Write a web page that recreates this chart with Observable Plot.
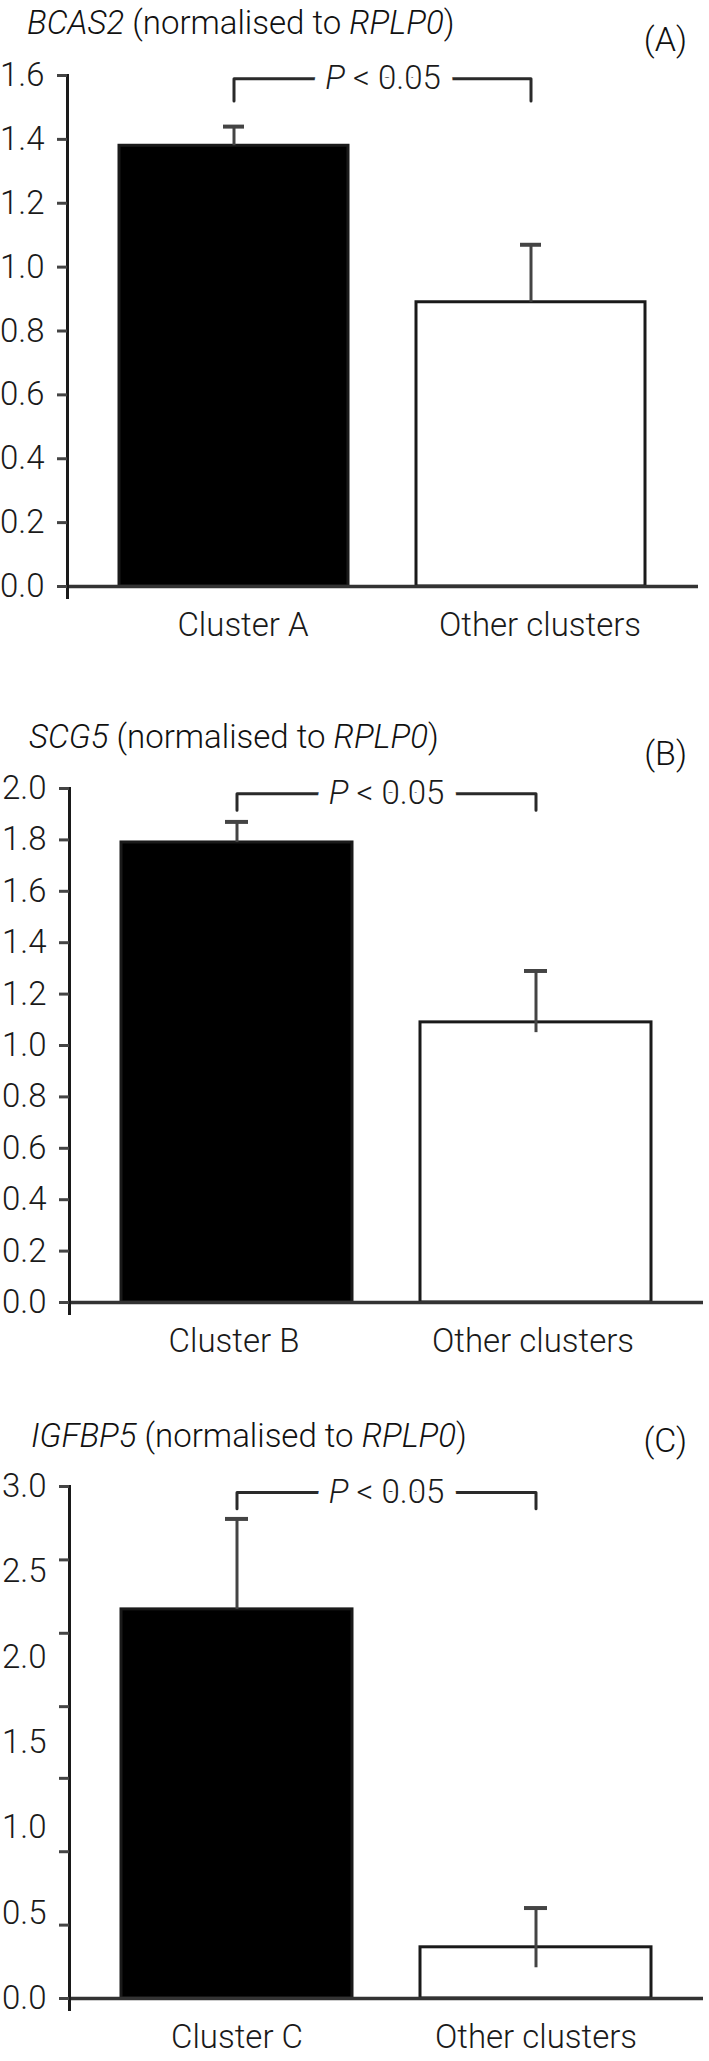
<!DOCTYPE html>
<html>
<head>
<meta charset="utf-8">
<script src="https://cdn.jsdelivr.net/npm/d3@7"></script>
<script src="https://cdn.jsdelivr.net/npm/@observablehq/plot@0.6"></script>
<style>
  html, body { margin: 0; padding: 0; background: #fff; }
  #root { position: relative; width: 709px; height: 2061px; font-family: Roboto, "Open Sans", sans-serif; color: #111; }
  .panel { position: absolute; left: 0; width: 709px; }
  .title { position: absolute; font-size: 33px; line-height: 33px; font-weight: 300; white-space: nowrap; }
  .tag { position: absolute; font-size: 34px; line-height: 34px; font-weight: 300; }
  .chart { position: absolute; left: 0; }
</style>
</head>
<body>
<div id="root"></div>
<script>
// ---- Data ----
const catsA = ["Cluster A", "Other clusters"];
const valuesA = [1.38, 0.89];
const errHiA = [1.44, 1.07];
const errLoA = [1.38, 0.89];
const ticksA = [0, 0.2, 0.4, 0.6, 0.8, 1.0, 1.2, 1.4, 1.6];

const catsB = ["Cluster B", "Other clusters"];
const valuesB = [1.79, 1.09];
const errHiB = [1.87, 1.29];
const errLoB = [1.79, 1.05];
const ticksB = [0, 0.2, 0.4, 0.6, 0.8, 1.0, 1.2, 1.4, 1.6, 1.8, 2.0];

const catsC = ["Cluster C", "Other clusters"];
const valuesC = [2.28, 0.30];
const errHiC = [2.81, 0.53];
const errLoC = [2.28, 0.18];
const labelTicksC = [0, 0.5, 1.0, 1.5, 2.0, 2.5, 3.0];
const markTicksC = [0, 0.43, 0.86, 1.29, 1.71, 2.14, 2.57, 3.0];

const pLabel = "P < 0.05";

// ---- Panels ----
const panels = [
  {gene: "BCAS2", tag: "(A)", cats: catsA, values: valuesA, hi: errHiA, lo: errLoA,
   domain: [0, 1.6], labelTicks: ticksA, markTicks: ticksA, bracketTop: 1.59, bracketLow: 1.52,
   top: 0, titleLeft: 27, titleTop: 6, tagTop: 22, plotH: 511, ml: 67, mr: 11, xdx: 9},
  {gene: "SCG5", tag: "(B)", cats: catsB, values: valuesB, hi: errHiB, lo: errLoB,
   domain: [0, 2.0], labelTicks: ticksB, markTicks: ticksB, bracketTop: 1.98, bracketLow: 1.915,
   top: 713, titleLeft: 29, titleTop: 7, tagTop: 23, plotH: 514, ml: 69, mr: 6, xdx: -3},
  {gene: "IGFBP5", tag: "(C)", cats: catsC, values: valuesC, hi: errHiC, lo: errLoC,
   domain: [0, 3.0], labelTicks: labelTicksC, markTicks: markTicksC, bracketTop: 2.965, bracketLow: 2.87,
   top: 1411, titleLeft: 31, titleTop: 8, tagTop: 12, plotH: 512, ml: 69, mr: 6, xdx: 0}
];

const root = document.getElementById("root");
const ink = "#1a1a1a";
const font = "Roboto, 'Open Sans', sans-serif";
const FS = 33;

panels.forEach(p => {
  const div = document.createElement("div");
  div.className = "panel";
  div.style.top = p.top + "px";
  div.style.height = "690px";
  root.appendChild(div);

  const title = document.createElement("div");
  title.className = "title";
  title.style.left = p.titleLeft + "px";
  title.style.top = p.titleTop + "px";
  title.innerHTML = `<i>${p.gene}</i> (normalised to <i>RPLP0</i>)`;
  div.appendChild(title);

  const tag = document.createElement("div");
  tag.className = "tag";
  tag.style.right = "22px";
  tag.style.top = p.tagTop + "px";
  tag.textContent = p.tag;
  div.appendChild(tag);

  const data = p.cats.map((c, i) => ({cat: c, value: p.values[i], hi: p.hi[i], lo: p.lo[i], idx: i}));
  const bracket = [
    {x: p.cats[0], y: p.bracketLow},
    {x: p.cats[0], y: p.bracketTop},
    {x: p.cats[1], y: p.bracketTop},
    {x: p.cats[1], y: p.bracketLow}
  ];

  const marginTop = 30, marginBottom = 60;
  const chart = Plot.plot({
    width: 709,
    height: marginTop + p.plotH + marginBottom,
    marginTop, marginBottom,
    marginLeft: p.ml, marginRight: p.mr,
    style: {fontFamily: font, fontSize: FS + "px", fontWeight: 300, color: ink, background: "transparent", overflow: "visible"},
    x: {domain: p.cats, paddingInner: 0.228, paddingOuter: 0.173, align: 0.5},
    y: {domain: p.domain},
    marks: [
      Plot.barY(data, {x: "cat", y: "value", fill: d => d.idx === 0 ? "#000" : "#fff", stroke: ink, strokeWidth: 3}),
      Plot.ruleX(data, {x: "cat", y1: "lo", y2: "hi", stroke: "#444", strokeWidth: 3}),
      Plot.tickY(data, {x: "cat", y: "hi", stroke: "#444", strokeWidth: 4, insetLeft: 104, insetRight: 104}),
      Plot.ruleY([0], {stroke: "#333", strokeWidth: 3.5}),
      Plot.frame({anchor: "left", stroke: ink, strokeWidth: 3, insetBottom: -11}),
      Plot.axisY({ticks: p.markTicks, tickSize: 10, tickFormat: () => "", stroke: "#444", strokeWidth: 3}),
      Plot.axisY({ticks: p.labelTicks, tickSize: 0, tickPadding: 23, tickFormat: d => d.toFixed(1), fontSize: FS, fill: ink}),
      Plot.axisX({tickSize: 0, tickPadding: 26, fontSize: FS, fill: ink, label: null, dx: p.xdx}),
      Plot.line(bracket, {x: "x", y: "y", stroke: "#2a2a2a", strokeWidth: 3}),
      // white halo that opens a gap in the bracket line around the label
      Plot.text([pLabel], {frameAnchor: "middle", y: () => p.bracketTop, text: d => d, fontSize: FS, fill: "white", stroke: "white", strokeWidth: 26}),
      Plot.text([pLabel], {frameAnchor: "middle", y: () => p.bracketTop, text: d => d, fontSize: FS, fill: ink})
    ]
  });
  chart.classList.add("chart");
  chart.style.position = "absolute";
  chart.style.top = "45px";
  chart.style.left = "0px";
  div.appendChild(chart);

  // italic "P" in the significance label
  chart.querySelectorAll("text").forEach(t => {
    if (t.textContent === pLabel) {
      while (t.firstChild) t.removeChild(t.firstChild);
      const ns = "http://www.w3.org/2000/svg";
      const ts = document.createElementNS(ns, "tspan");
      ts.setAttribute("font-style", "italic");
      ts.textContent = "P";
      t.appendChild(ts);
      t.appendChild(document.createTextNode(" < 0.05"));
    }
  });
});
</script>
</body>
</html>
